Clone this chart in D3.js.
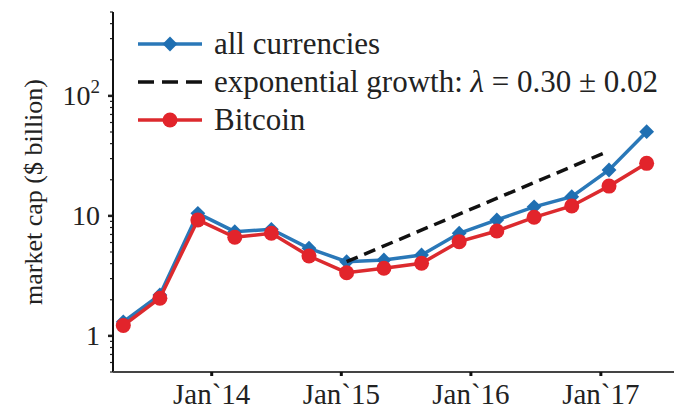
<!DOCTYPE html>
<html>
<head>
<meta charset="utf-8">
<script src="https://cdn.jsdelivr.net/npm/d3@7"></script>
<style>
  body { margin: 0; background: #fff; }
  svg text { font-family: "Liberation Serif", "Times New Roman", "DejaVu Serif", serif; fill: #222; }
</style>
</head>
<body>
<div id="chart"></div>
<script>
'use strict';
// market cap, sampled roughly every 15 weeks

const dates = ["2013-04-27", "2013-08-08", "2013-11-23", "2014-03-07", "2014-06-18",
  "2014-10-02", "2015-01-16", "2015-05-01", "2015-08-15", "2015-11-29",
  "2016-03-14", "2016-06-27", "2016-10-11", "2017-01-24", "2017-05-10"];
const allCurrencies = [1.31, 2.19, 10.5, 7.39, 7.73, 5.37, 4.15, 4.29, 4.72, 7.16, 9.25, 11.9, 14.45, 24.1, 50.3];
const bitcoin = [1.22, 2.06, 9.25, 6.63, 7.16, 4.63, 3.36, 3.66, 4.03, 6.10, 7.48, 9.73, 12.1, 17.7, 27.4];

// fitted exponential, drawn between its two end points
const fitDates = ["2015-01-16", "2017-01-12"];
const fitValues = [4.15, 33.6];

const xTicks = ["2014-01-01", "2015-01-01", "2016-01-01", "2017-01-01"];
const xTickLabels = ["Jan`14", "Jan`15", "Jan`16", "Jan`17"];
const yTicks = [1, 10, 100];
const yTickLabels = [["1", ""], ["10", ""], ["10", "2"]];

const width = 674, height = 410;
const margin = {top: 12, right: 0, bottom: 38, left: 113};
const parse = d3.timeParse("%Y-%m-%d");
const serif = "'Liberation Serif', 'Times New Roman', serif";

const svg = d3.select("#chart").append("svg")
  .attr("width", width)
  .attr("height", height);

const x = d3.scaleTime()
  .domain([parse("2013-03-29"), parse("2017-07-26")])
  .range([margin.left, width - margin.right]);

const y = d3.scaleLog()
  .domain([0.5, 500])
  .range([height - margin.bottom, margin.top]);

const blue = "#2a78b8", red = "#dc2a2e";

// y minor ticks
const minor = [];
[0.1, 1, 10, 100].forEach(d => {
  for (let k = 2; k <= 9; k++) {
    const v = d * k;
    if (v >= 0.5 && v <= 500) minor.push(v);
  }
});
svg.append("g").selectAll("line")
  .data(minor)
  .enter().append("line")
  .attr("x1", margin.left - 3).attr("x2", margin.left)
  .attr("y1", d => y(d)).attr("y2", d => y(d))
  .attr("stroke", "#222").attr("stroke-width", 1.2);

svg.append("g").selectAll("line")
  .data(yTicks)
  .enter().append("line")
  .attr("x1", margin.left - 5).attr("x2", margin.left)
  .attr("y1", d => y(d)).attr("y2", d => y(d))
  .attr("stroke", "#222").attr("stroke-width", 2.5);

const yLab = svg.append("g").selectAll("text")
  .data(yTicks)
  .enter().append("text")
  .attr("x", margin.left - 13)
  .attr("y", d => y(d) + 9)
  .attr("text-anchor", "end")
  .attr("font-family", serif)
  .style("font-size", "28px");
yLab.append("tspan").text((d, i) => yTickLabels[i][0]);
yLab.append("tspan")
  .attr("dy", -12)
  .style("font-size", "19px")
  .text((d, i) => yTickLabels[i][1]);

// spines
svg.append("line")
  .attr("x1", margin.left).attr("x2", margin.left)
  .attr("y1", margin.top).attr("y2", height - margin.bottom)
  .attr("stroke", "#111").attr("stroke-width", 2);
svg.append("line")
  .attr("x1", margin.left).attr("x2", width)
  .attr("y1", height - margin.bottom).attr("y2", height - margin.bottom)
  .attr("stroke", "#444").attr("stroke-width", 2);

svg.append("g").selectAll("line")
  .data(xTicks)
  .enter().append("line")
  .attr("x1", d => x(parse(d))).attr("x2", d => x(parse(d)))
  .attr("y1", height - margin.bottom).attr("y2", height - margin.bottom + 4)
  .attr("stroke", "#111").attr("stroke-width", 3);

svg.append("g").selectAll("text")
  .data(xTicks)
  .enter().append("text")
  .attr("x", d => x(parse(d)))
  .attr("y", height - 6)
  .attr("text-anchor", "middle")
  .attr("font-family", serif)
  .style("font-size", "29px")
  .text((d, i) => xTickLabels[i]);

svg.append("text")
  .attr("transform", "translate(42, 192) rotate(-90)")
  .attr("text-anchor", "middle")
  .attr("font-family", serif)
  .style("font-size", "26px")
  .text("market cap ($ billion)");

const line = d3.line()
  .x(d => x(d[0]))
  .y(d => y(d[1]));

const blueData = dates.map((d, i) => [parse(d), allCurrencies[i]]);
const redData = dates.map((d, i) => [parse(d), bitcoin[i]]);
const fitData = fitDates.map((d, i) => [parse(d), fitValues[i]]);

// square turned 45 degrees, like a matplotlib "D" marker
const diamond = d3.symbol().type(d3.symbolSquare).size(110);

svg.append("path")
  .datum(blueData)
  .attr("d", line)
  .attr("fill", "none")
  .attr("stroke", blue)
  .attr("stroke-width", 3.5);
svg.append("g").selectAll("path")
  .data(blueData)
  .enter().append("path")
  .attr("d", diamond)
  .attr("transform", d => `translate(${x(d[0])},${y(d[1])}) rotate(45)`)
  .attr("fill", "#1f6fb2");

svg.append("path")
  .datum(redData)
  .attr("d", line)
  .attr("fill", "none")
  .attr("stroke", red)
  .attr("stroke-width", 3.5);
svg.append("g").selectAll("circle")
  .data(redData)
  .enter().append("circle")
  .attr("cx", d => x(d[0]))
  .attr("cy", d => y(d[1]))
  .attr("r", 7.5)
  .attr("fill", "#e2242b");

svg.append("path")
  .datum(fitData)
  .attr("d", line)
  .attr("fill", "none")
  .attr("stroke", "#111")
  .attr("stroke-width", 3.5)
  .attr("stroke-dasharray", "12,7");

// legend
const legend = svg.append("g").attr("transform", "translate(138, 44)");
const rowGap = 38;

legend.append("line")
  .attr("x1", 0).attr("x2", 64).attr("y1", 0).attr("y2", 0)
  .attr("stroke", blue).attr("stroke-width", 3.5);
legend.append("path")
  .attr("d", diamond)
  .attr("transform", "translate(32,0) rotate(45)")
  .attr("fill", "#1f6fb2");
legend.append("text")
  .attr("x", 76).attr("y", 10)
  .attr("font-family", serif)
  .style("font-size", "31px")
  .text("all currencies");

legend.append("line")
  .attr("x1", 0).attr("x2", 64).attr("y1", rowGap).attr("y2", rowGap)
  .attr("stroke", "#111").attr("stroke-width", 3.5)
  .attr("stroke-dasharray", "16,8");
const expText = legend.append("text")
  .attr("x", 76).attr("y", rowGap + 10)
  .attr("font-family", serif)
  .style("font-size", "31px");
expText.append("tspan").text("exponential growth: ");
expText.append("tspan").style("font-style", "italic").text("λ");
expText.append("tspan").text(" = 0.30 ± 0.02");

legend.append("line")
  .attr("x1", 0).attr("x2", 64).attr("y1", rowGap * 2).attr("y2", rowGap * 2)
  .attr("stroke", red).attr("stroke-width", 3.5);
legend.append("circle")
  .attr("cx", 32).attr("cy", rowGap * 2).attr("r", 7.5)
  .attr("fill", "#e2242b");
legend.append("text")
  .attr("x", 76).attr("y", rowGap * 2 + 10)
  .attr("font-family", serif)
  .style("font-size", "31px")
  .text("Bitcoin");
</script>
</body>
</html>
